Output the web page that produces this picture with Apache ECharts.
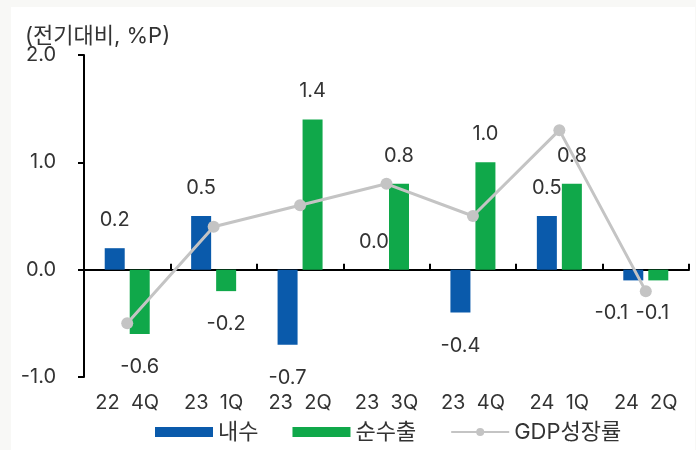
<!DOCTYPE html>
<html>
<head>
<meta charset="utf-8">
<script src="https://cdn.jsdelivr.net/npm/echarts@6/dist/echarts.min.js"></script>
<style>
  html, body {margin: 0; padding: 0; background: #f8f8f6;}
  #wrap {position: absolute; left: 11px; top: 7px; width: 684px; height: 443px; background: #fff;}
  #chart {position: absolute; left: 0; top: 0; width: 696px; height: 450px;}
</style>
</head>
<body>
<div id="wrap"></div>
<div id="chart"></div>
<script>
const categories = ['22  4Q', '23  1Q', '23  2Q', '23  3Q', '23  4Q', '24  1Q', '24  2Q'];
const domestic = [0.2, 0.5, -0.7, 0.0, -0.4, 0.5, -0.1];
const netExports = [-0.6, -0.2, 1.4, 0.8, 1.0, 0.8, -0.1];
const gdpGrowth = [-0.5, 0.4, 0.6, 0.8, 0.5, 1.3, -0.2];
const yTicks = [-1, 0, 1, 2];

const FONT = "Inter, 'Noto Sans CJK KR', sans-serif";
const BLUE = '#0a5aab';
const GREEN = '#10a84a';
const GREY = '#c4c4c4';
const TXT = '#333';

// label above positive bars, below negative ones
function barData(arr, lastShift) {
  return arr.map((v, i) => {
    const item = {value: v, label: {position: v >= 0 ? 'top' : 'bottom', distance: v >= 0 ? 18 : 23}};
    if (i === arr.length - 1) item.label.offset = [lastShift, 0];
    return item;
  });
}

const labelStyle = {
  show: true,
  color: TXT,
  fontSize: 20,
  fontFamily: FONT,
  formatter: p => p.value.toFixed(1)
};

const chart = echarts.init(document.getElementById('chart'));
chart.setOption({
  animation: false,
  textStyle: {fontFamily: FONT},
  title: {
    text: '(전기대비, %P)',
    left: 20, top: 20,
    textStyle: {fontSize: 22, fontWeight: 'normal', color: TXT, fontFamily: FONT}
  },
  grid: {left: 84, right: 7, top: 55, bottom: 73},
  legend: {
    bottom: 2,
    left: 150,
    itemWidth: 58, itemHeight: 10, itemGap: 34,
    textStyle: {fontSize: 22, color: TXT, fontFamily: FONT},
    data: [
      {name: '내수', icon: 'rect'},
      {name: '순수출', icon: 'rect'},
      {name: 'GDP성장률'}
    ]
  },
  xAxis: [{
    type: 'category',
    data: categories,
    position: 'bottom',
    axisLine: {show: false, onZero: false},
    axisTick: {show: false},
    axisLabel: {fontSize: 20, color: TXT, margin: 16, fontFamily: FONT}
  }, {
    type: 'category',
    data: categories,
    axisLine: {onZero: true, lineStyle: {color: '#000', width: 2}},
    axisTick: {show: true, length: 6, lineStyle: {color: '#000', width: 2}},
    axisLabel: {show: false}
  }],
  yAxis: {
    type: 'value',
    min: yTicks[0], max: yTicks[yTicks.length - 1], interval: 1,
    axisLine: {show: true, lineStyle: {color: '#000', width: 2}},
    axisTick: {show: true, length: 6, lineStyle: {color: '#000', width: 2}},
    splitLine: {show: false},
    axisLabel: {fontSize: 20, color: TXT, margin: 28, fontFamily: FONT, formatter: v => v.toFixed(1)}
  },
  series: [{
    name: '내수',
    type: 'bar',
    data: barData(domestic, -22),
    barWidth: 20,
    barGap: '25%',
    itemStyle: {color: BLUE},
    label: labelStyle
  }, {
    name: '순수출',
    type: 'bar',
    data: barData(netExports, -6),
    barWidth: 20,
    itemStyle: {color: GREEN},
    label: labelStyle
  }, {
    name: 'GDP성장률',
    type: 'line',
    data: gdpGrowth,
    symbol: 'circle',
    symbolSize: 12,
    lineStyle: {color: GREY, width: 3},
    itemStyle: {color: GREY},
    z: 5
  }]
});
</script>
</body>
</html>
